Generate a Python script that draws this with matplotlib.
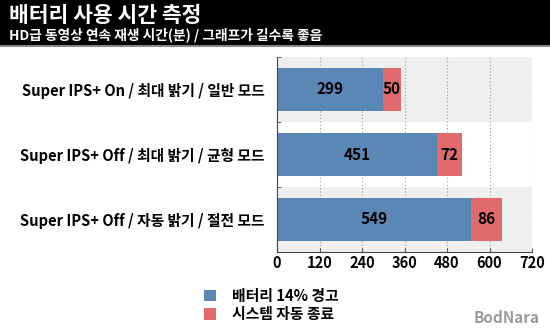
import matplotlib
matplotlib.use("Agg")
import matplotlib.pyplot as plt
from matplotlib.patches import Rectangle

plt.rcParams['font.family'] = ['Noto Sans CJK KR', 'DejaVu Sans']

categories = ["Super IPS+ On / 최대 밝기 / 일반 모드",
              "Super IPS+ Off / 최대 밝기 / 균형 모드",
              "Super IPS+ Off / 자동 밝기 / 절전 모드"]
battery_warn = [299, 451, 549]
auto_off = [50, 72, 86]
series_names = ["배터리 14% 경고", "시스템 자동 종료"]
xticks = [0, 120, 240, 360, 480, 600, 720]
title = "배터리 사용 시간 측정"
subtitle = "HD급 동영상 연속 재생 시간(분) / 그래프가 길수록 좋음"

c_blue = "#5b87b7"
c_red = "#e06a6c"

W, H = 550, 330
fig = plt.figure(figsize=(5.5, 3.3), dpi=100)
fig.patch.set_facecolor("white")

# header
fig.add_artist(Rectangle((0, 1 - 45 / H), 1, 45 / H, transform=fig.transFigure,
                         facecolor="black", edgecolor="none"))
fig.add_artist(Rectangle((0, 1 - 47 / H), 1, 2 / H, transform=fig.transFigure,
                         facecolor="#888888", edgecolor="none"))
fig.text(9 / W, 1 - 16 / H, title, color="white", fontsize=15.5, fontweight="bold",
         va="center", ha="left")
fig.text(9 / W, 1 - 35 / H, subtitle, color="white", fontsize=9.9, fontweight="bold",
         va="center", ha="left")

ax_l, ax_r, ax_t, ax_b = 277, 532, 57, 252
ax = fig.add_axes([ax_l / W, 1 - ax_b / H, (ax_r - ax_l) / W, (ax_b - ax_t) / H])

n = len(categories)
ypos = list(range(n))[::-1]
ax.set_ylim(-0.5, n - 0.5)
ax.set_xlim(0, 720)
for i, y in enumerate(ypos):
    if i % 2 == 0:
        ax.axhspan(y - 0.5, y + 0.5, color="#efefef", zorder=0, lw=0)

b1 = ax.barh(ypos, battery_warn, height=0.67, color=c_blue, zorder=2)
b2 = ax.barh(ypos, auto_off, left=battery_warn, height=0.67, color=c_red, zorder=2)
for y, a, b in zip(ypos, battery_warn, auto_off):
    ax.text(a / 2, y, str(a), ha="center", va="center", fontsize=11, fontweight="bold",
            color="black", zorder=3)
    ax.text(a + b / 2, y, str(b), ha="center", va="center", fontsize=11, fontweight="bold",
            color="black", zorder=3)

ax.set_xticks(xticks)
ax.set_xticklabels([str(t) for t in xticks], fontsize=10.5, fontweight="bold")
ax.xaxis.grid(True, linestyle=(0, (1, 2)), color="#999999", lw=0.8, zorder=1)
ax.set_axisbelow(True)
ax.set_yticks(ypos)
ax.set_yticklabels(categories, fontsize=10.6, fontweight="bold")
ax.set_yticks([y + 0.5 for y in ypos] + [-0.5], minor=True)
ax.tick_params(axis="y", which="major", length=0, pad=9)
ax.tick_params(axis="y", which="minor", length=3, direction="in", color="#555555")
ax.tick_params(axis="x", length=3, direction="in", color="#555555", pad=2)
for s in ["top", "right"]:
    ax.spines[s].set_visible(False)
ax.spines["left"].set_color("#444444")
ax.spines["bottom"].set_color("#444444")

leg = fig.legend(handles=[b1, b2], labels=series_names,
                 loc="upper left", bbox_to_anchor=(198 / W, 1 - 282 / H), frameon=False,
                 prop={"weight": "bold", "size": 10.7}, handlelength=0.8, handleheight=0.8,
                 labelspacing=0.15, handletextpad=1.1, borderaxespad=0)

fig.text(540 / W, 1 - 318 / H, "BodNara", color="#9a9a9a", fontsize=11,
         fontweight="bold", ha="right", va="center")

fig.savefig("out.png", dpi=100)
